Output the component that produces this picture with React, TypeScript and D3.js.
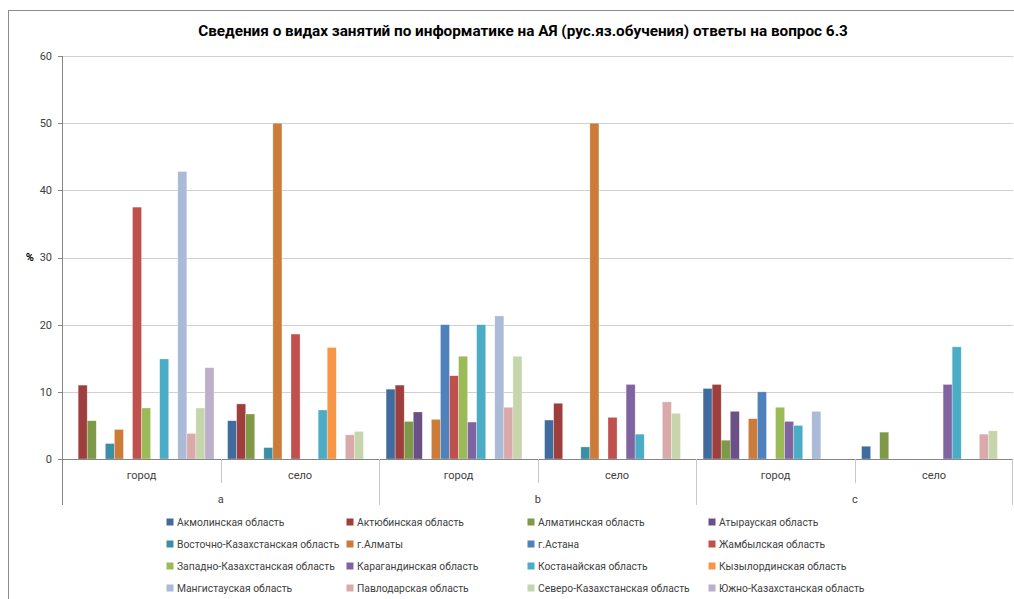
import React from "react";
import * as d3 from "d3";

const groups = ["город", "село", "город", "село", "город", "село"];
const majors = ["a", "b", "c"];
const seriesNames = [
  "Акмолинская область",
  "Актюбинская область",
  "Алматинская область",
  "Атырауская область",
  "Восточно-Казахстанская область",
  "г.Алматы",
  "г.Астана",
  "Жамбылская область",
  "Западно-Казахстанская область",
  "Карагандинская область",
  "Костанайская область",
  "Кызылординская область",
  "Мангистауская область",
  "Павлодарская область",
  "Северо-Казахстанская область",
  "Южно-Казахстанская область",
];
const akmola = [0, 5.7, 10.4, 5.8, 10.5, 1.9];
const aktobe = [11.0, 8.2, 11.0, 8.3, 11.1, 0];
const almatyObl = [5.7, 6.7, 5.6, 0, 2.8, 4.0];
const atyrau = [0, 0, 7.0, 0, 7.1, 0];
const eastKz = [2.3, 1.7, 0, 1.8, 0, 0];
const almatyCity = [4.4, 50, 5.9, 50, 6.0, 0];
const astana = [0, 0, 20.0, 0, 10.0, 0];
const zhambyl = [37.5, 18.6, 12.4, 6.2, 0, 0];
const westKz = [7.6, 0, 15.3, 0, 7.7, 0];
const karaganda = [0, 0, 5.5, 11.1, 5.6, 11.1];
const kostanay = [14.9, 7.3, 20.0, 3.7, 5.0, 16.7];
const kyzylorda = [0, 16.6, 0, 0, 0, 0];
const mangystau = [42.8, 0, 21.3, 0, 7.1, 0];
const pavlodar = [3.8, 3.6, 7.7, 8.5, 0, 3.7];
const northKz = [7.6, 4.1, 15.3, 6.8, 0, 4.2];
const southKz = [13.6, 0, 0, 0, 0, 0];
const seriesValues = [
  akmola, aktobe, almatyObl, atyrau, eastKz, almatyCity, astana, zhambyl,
  westKz, karaganda, kostanay, kyzylorda, mangystau, pavlodar, northKz, southKz,
];
const colors = [
  "#3F6B9E", "#9E3F3D", "#7E9A48", "#6A5085", "#3A8EA5", "#CC7B38",
  "#4F81BD", "#C0504D", "#9BBB59", "#8064A2", "#4BACC6", "#F79646",
  "#AABAD7", "#D9AAA9", "#C6D5AB", "#BAB0C9",
];
const yTicks = [0, 10, 20, 30, 40, 50, 60];
const title = "Сведения о видах занятий по информатике на АЯ (рус.яз.обучения) ответы на вопрос 6.3";

const FONT = "Roboto, 'Liberation Sans', sans-serif";

export default function App() {
  const left = 62.3;
  const right = 1013.3;
  const top = 56;
  const bottom = 459;
  const x0 = d3.scaleBand<number>().domain(d3.range(groups.length)).range([left, right]).padding(0);
  const x1 = d3
    .scaleBand<number>()
    .domain(d3.range(seriesNames.length))
    .range([0, x0.bandwidth()])
    .paddingInner(0)
    .paddingOuter(0.75);
  const y = d3.scaleLinear().domain([0, 60]).range([bottom, top]);
  const gw = x0.bandwidth();

  const legendColX = [170, 350, 531, 712];
  const legendRowY = [522, 544, 566, 588];

  return (
    <svg
      width={1014}
      height={599}
      style={{ position: "absolute", left: 0, top: 0, background: "#fff" }}
    >
      <rect x={0} y={0} width={1014} height={599} fill="#fff" />
      {/* chart frame */}
      <line x1={8.5} y1={10} x2={8.5} y2={599} stroke="#8c8c8c" strokeWidth={1} />
      <line x1={8} y1={10.5} x2={1014} y2={10.5} stroke="#8c8c8c" strokeWidth={1} />

      <text
        x={523}
        y={36}
        textAnchor="middle"
        fontFamily={FONT}
        fontWeight="bold"
        fontSize={15.3}
        fill="#000"
      >
        {title}
      </text>

      {/* gridlines */}
      {yTicks.map((t) => (
        <g key={t}>
          {t > 0 && (
            <line x1={left} x2={right} y1={Math.round(y(t)) + 0.5} y2={Math.round(y(t)) + 0.5} stroke="#d0d0d0" />
          )}
          <line x1={58} x2={left} y1={Math.round(y(t)) + 0.5} y2={Math.round(y(t)) + 0.5} stroke="#868686" />
          <text
            x={52}
            y={y(t)}
            dy="0.35em"
            textAnchor="end"
            fontFamily={FONT}
            fontSize={11}
            fill="#404040"
          >
            {t}
          </text>
        </g>
      ))}
      <text x={34} y={y(30)} dy="0.35em" textAnchor="end" fontFamily={FONT} fontSize={11} fontWeight="bold" fill="#000">
        %
      </text>

      {/* bars */}
      {seriesValues.map((vals, si) =>
        vals.map((v, gi) =>
          v > 0 ? (
            <rect
              key={`${si}-${gi}`}
              x={(x0(gi) as number) + (x1(si) as number)}
              y={y(v)}
              width={x1.bandwidth()}
              height={bottom - y(v)}
              fill={colors[si]}
              stroke="#ffffff"
              strokeOpacity={0.5}
              strokeWidth={0.6}
            />
          ) : null
        )
      )}

      {/* axes */}
      <line x1={Math.round(left) + 0.5} x2={Math.round(left) + 0.5} y1={top} y2={505} stroke="#868686" />
      <line x1={left} x2={right} y1={bottom + 0.5} y2={bottom + 0.5} stroke="#868686" />
      {groups.map((g, gi) => {
        const xs = x0(gi) as number;
        return (
          <g key={gi}>
            {gi > 0 && (
              <line
                x1={Math.round(xs) + 0.5}
                x2={Math.round(xs) + 0.5}
                y1={bottom}
                y2={gi % 2 === 0 ? 505 : 483}
                stroke="#c8c8c8"
              />
            )}
            <text
              x={xs + gw / 2}
              y={475}
              dy="0.35em"
              textAnchor="middle"
              fontFamily={FONT}
              fontSize={11}
              fill="#404040"
            >
              {g}
            </text>
          </g>
        );
      })}
      <line x1={Math.round(right) - 0.5} x2={Math.round(right) - 0.5} y1={bottom} y2={505} stroke="#c8c8c8" />
      {majors.map((m, mi) => (
        <text
          key={m}
          x={(x0(mi * 2) as number) + gw}
          y={499}
          dy="0.35em"
          textAnchor="middle"
          fontFamily={FONT}
          fontSize={11}
          fill="#404040"
        >
          {m}
        </text>
      ))}

      {/* legend */}
      {seriesNames.map((name, i) => {
        const cx = legendColX[i % 4];
        const cy = legendRowY[Math.floor(i / 4)];
        return (
          <g key={name}>
            <rect x={cx - 3.5} y={cy - 3.5} width={7} height={7} fill={colors[i]} />
            <text x={cx + 7} y={cy} dy="0.35em" fontFamily={FONT} fontSize={10.3} fill="#404040">
              {name}
            </text>
          </g>
        );
      })}
    </svg>
  );
}
